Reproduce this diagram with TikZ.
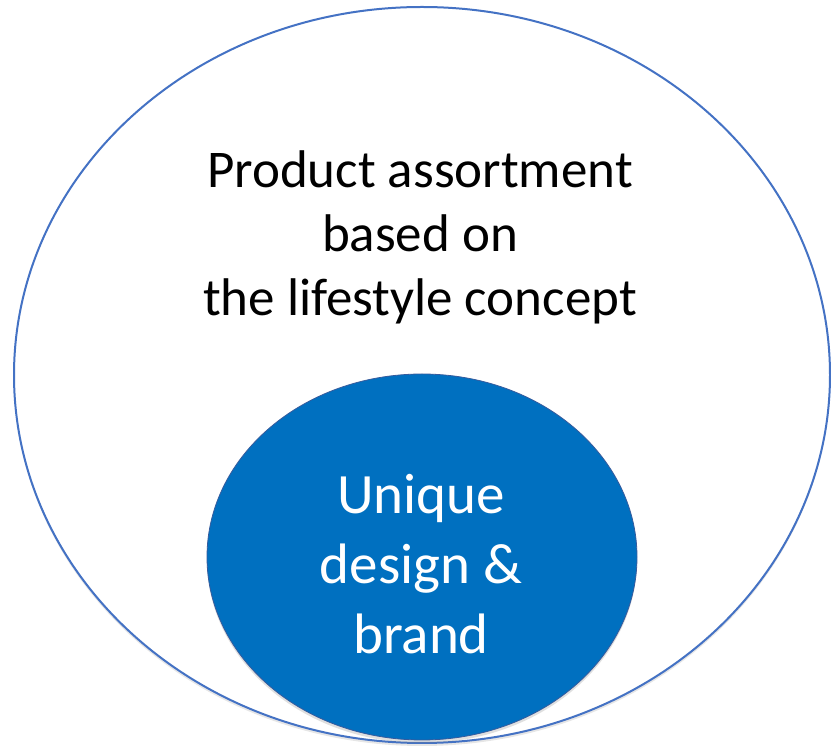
\documentclass[tikz,border=0pt]{standalone}
\usepackage{fontspec}
\setmainfont{Carlito}
\usetikzlibrary{shapes.geometric, shadows}

\definecolor{ringblue}{RGB}{68,114,196}
\definecolor{coreblue}{RGB}{0,112,192}

\tikzset{
  ring/.style={ellipse, draw=ringblue, line width=2pt, fill=white,
    drop shadow={shadow xshift=0pt, shadow yshift=-3pt, opacity=0.2}},
  core/.style={ellipse, draw=ringblue!80!black, line width=0.8pt, fill=coreblue,
    drop shadow={shadow xshift=0pt, shadow yshift=-3pt, opacity=0.25}},
  label/.style={align=center, font=\fontsize{53}{64}\selectfont}
}

\begin{document}
\begin{tikzpicture}[x=1pt, y=1pt]
  \useasboundingbox (0,0) rectangle (831,747);

  % outer ring
  \node[ring, minimum width=816pt, minimum height=736pt, inner sep=0pt] (assortment) at (422,372) {};
  \node[label] (assortmenttext) at (420,510) {Product assortment\\based on\\the lifestyle concept};

  % inner core
  \node[core, minimum width=430pt, minimum height=366pt, inner sep=0pt] (brand) at (422,190) {};
  \node[label, text=white, font=\fontsize{57}{70}\selectfont] (brandtext) at (421,183) {Unique\\design \&\\brand};
\end{tikzpicture}
\end{document}
